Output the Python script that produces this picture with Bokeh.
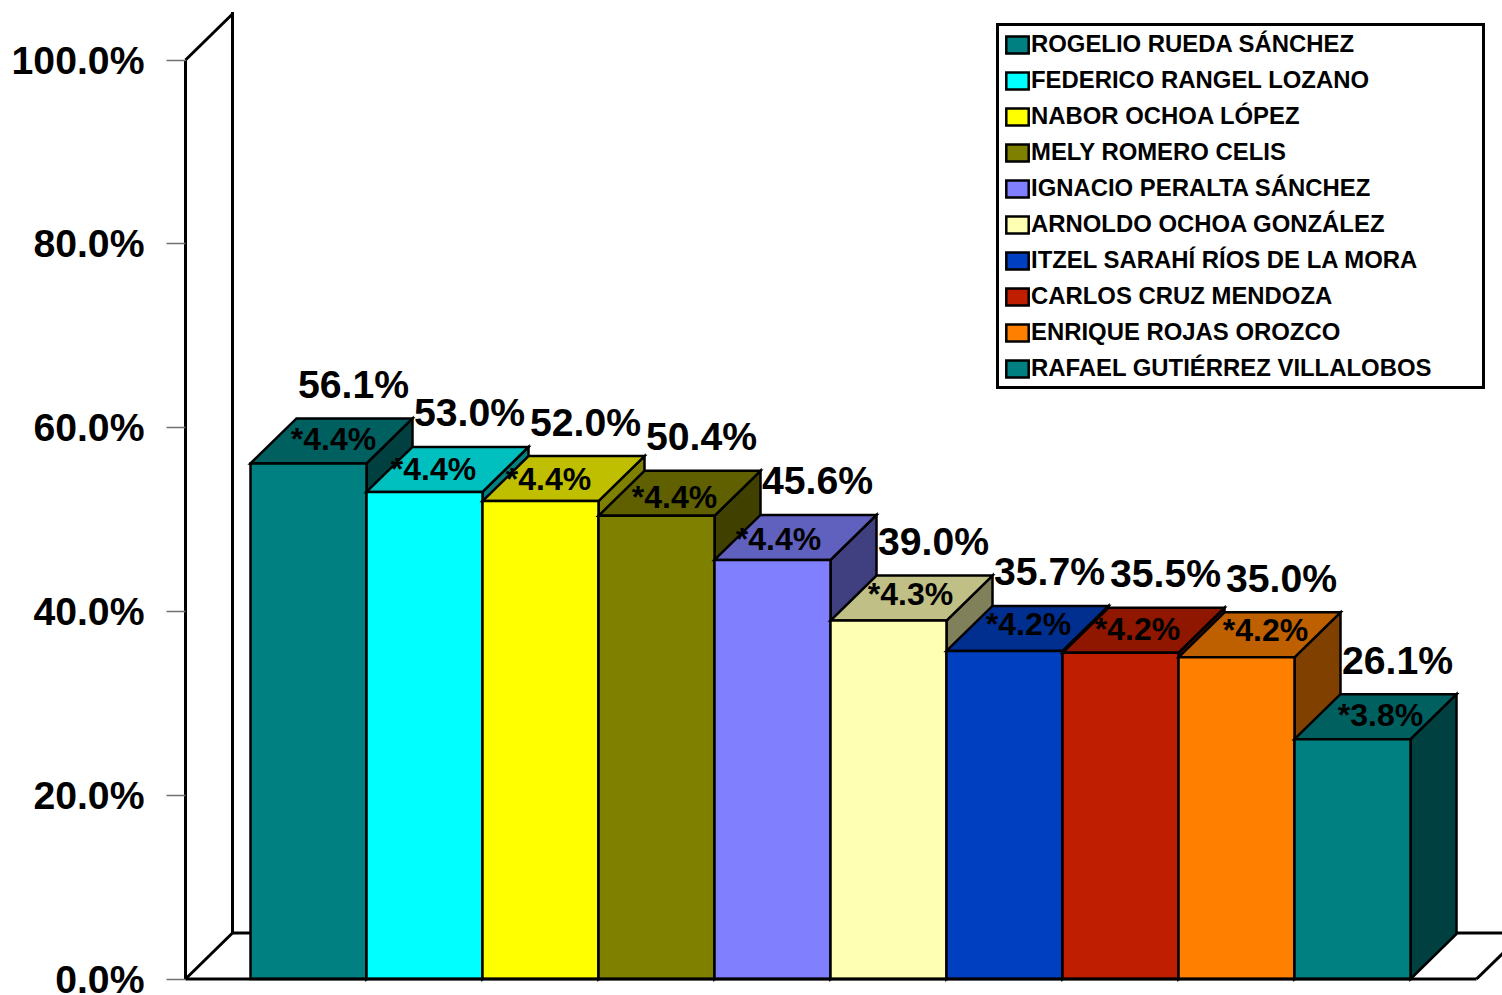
from bokeh.plotting import figure
from bokeh.models import Range1d, Legend, LegendItem, FixedTicker, CustomJSTickFormatter, ColumnDataSource
from bokeh.core.properties import value
from bokeh.embed import file_html
from bokeh.resources import INLINE

candidates = ["ROGELIO RUEDA SÁNCHEZ", "FEDERICO RANGEL LOZANO", "NABOR OCHOA LÓPEZ", "MELY ROMERO CELIS",
              "IGNACIO PERALTA SÁNCHEZ", "ARNOLDO OCHOA GONZÁLEZ", "ITZEL SARAHÍ RÍOS DE LA MORA",
              "CARLOS CRUZ MENDOZA", "ENRIQUE ROJAS OROZCO", "RAFAEL GUTIÉRREZ VILLALOBOS"]
percent = [56.1, 53.0, 52.0, 50.4, 45.6, 39.0, 35.7, 35.5, 35.0, 26.1]
margin_err = [4.4, 4.4, 4.4, 4.4, 4.4, 4.3, 4.2, 4.2, 4.2, 3.8]
colors = ["#008080", "#00FFFF", "#FFFF00", "#808000", "#8080FF",
          "#FFFFB3", "#003FBF", "#BF1F00", "#FF8000", "#008080"]
tick_values = [0, 20, 40, 60, 80, 100]

# pixel layout of the drawing
PX_X, PX_Y = 116.0, 9.19
DX, DY = 46 / PX_X, 45 / PX_Y
WALL_DX, WALL_DY = 47 / PX_X, 46 / PX_Y
GAP = 65 / PX_X
FRONT_END = 1226 / PX_X
err_dx = [25, 9, 8, 18, 6, 22, 24, 17, 29, 28]
err_dy = [24, 23, 22, 19, 21, 27, 27, 24, 27, 24]
FONT = value("Liberation Sans")


def shade(hex_color, f):
    r, g, b = (int(hex_color[i:i + 2], 16) for i in (1, 3, 5))
    return "#%02X%02X%02X" % (round(r * f), round(g * f), round(b * f))


W, H = 1502, 995
LEFT, BOTTOM = 185, 16.5
x_start = -GAP - LEFT / PX_X
x_end = (W - LEFT) / PX_X - GAP
y_start = -BOTTOM / PX_Y
y_end = (H - BOTTOM) / PX_Y

p = figure(width=W, height=H, output_backend="svg", toolbar_location=None,
           x_range=Range1d(x_start, x_end), y_range=Range1d(y_start, y_end),
           min_border_left=0, min_border_right=0, min_border_top=0, min_border_bottom=0,
           outline_line_color=None, background_fill_color="white")
p.xaxis.visible = False
p.grid.visible = False
ax = p.yaxis[0]
ax.fixed_location = -GAP
ax.ticker = FixedTicker(ticks=tick_values)
ax.bounds = (0, 100)
ax.formatter = CustomJSTickFormatter(code="return tick.toFixed(1) + '%';")
ax.major_label_overrides = {0: ""}
ax.axis_line_color = "black"
ax.axis_line_width = 3
ax.major_tick_line_color = "#707070"
ax.major_tick_line_width = 1.5
ax.major_tick_in = 0
ax.major_tick_out = 19
ax.minor_tick_line_color = None
ax.major_label_standoff = 22
ax.major_label_text_font = "Liberation Sans"
ax.major_label_text_font_style = "bold"
ax.major_label_text_font_size = "39.2px"
ax.major_label_text_color = "black"

# walls and floor
wx = -GAP + WALL_DX
line = dict(line_color="black", line_width=3)
p.line([-GAP, wx], [100, 100 + WALL_DY], **line)
p.line([wx, wx], [100 + WALL_DY + 2 / PX_Y, WALL_DY], **line)
p.line([-GAP, wx], [0, WALL_DY], **line)
p.line([wx, x_end + 1], [WALL_DY, WALL_DY], **line)
p.line([FRONT_END, FRONT_END + WALL_DX], [0, WALL_DY], **line)

# bars
items = []
for i, (name, v, c) in enumerate(zip(candidates, percent, colors)):
    edge = dict(line_color="black", line_width=2.5, line_join="miter")
    p.patch([i + 1, i + 1 + DX, i + 1 + DX, i + 1], [0, DY, v + DY, v], fill_color=shade(c, 0.5), **edge)
    p.patch([i, i + DX, i + 1 + DX, i + 1], [v, v + DY, v + DY, v], fill_color=shade(c, 0.75), **edge)
    r = p.quad(left=i, right=i + 1, bottom=0, top=v, fill_color=c, **edge)
    items.append(LegendItem(label=value(name), renderers=[r]))

p.line([-GAP, FRONT_END], [0, 0], **line)

# the lowest tick label hangs below the floor line, where the axis would push it up
p.text(x=[-GAP], y=[tick_values[0]], text=["%.1f%%" % tick_values[0]], x_offset=-41, y_offset=0,
       text_align="right", text_baseline="middle", text_font=FONT, text_font_style="bold",
       text_font_size="39.2px", text_color="black")

# labels
src = ColumnDataSource(dict(
    cx=[i + 0.5 for i in range(len(percent))],
    bx=[i + 0.5 + DX for i in range(len(percent))],
    v=percent,
    vt=["%.1f%%" % v for v in percent],
    et=["*%.1f%%" % v for v in margin_err],
    edx=err_dx,
    edy=[-d for d in err_dy],
))
p.text(x="bx", y="v", text="vt", source=src, x_offset=-1, y_offset=-79, text_align="center", text_baseline="middle",
       text_font=FONT, text_font_style="bold", text_font_size="39.2px", text_color="black")
p.text(x="cx", y="v", text="et", source=src, x_offset="edx", y_offset="edy", text_align="center",
       text_baseline="middle", text_font=FONT, text_font_style="bold", text_font_size="32px", text_color="black")

legend = Legend(items=items, location=(996, H - 388 - 1), orientation="vertical",
                padding=4, margin=0, spacing=8, glyph_width=28, glyph_height=21,
                label_standoff=-4, label_height=25, label_width=447,
                label_text_font="Liberation Sans", label_text_font_style="bold",
                label_text_font_size="23.9px", label_text_color="black",
                border_line_color="black", border_line_width=3, border_line_alpha=1.0,
                background_fill_color="white", background_fill_alpha=1.0)
p.add_layout(legend, "center")

open("out.html", "w").write(file_html(p, INLINE))
